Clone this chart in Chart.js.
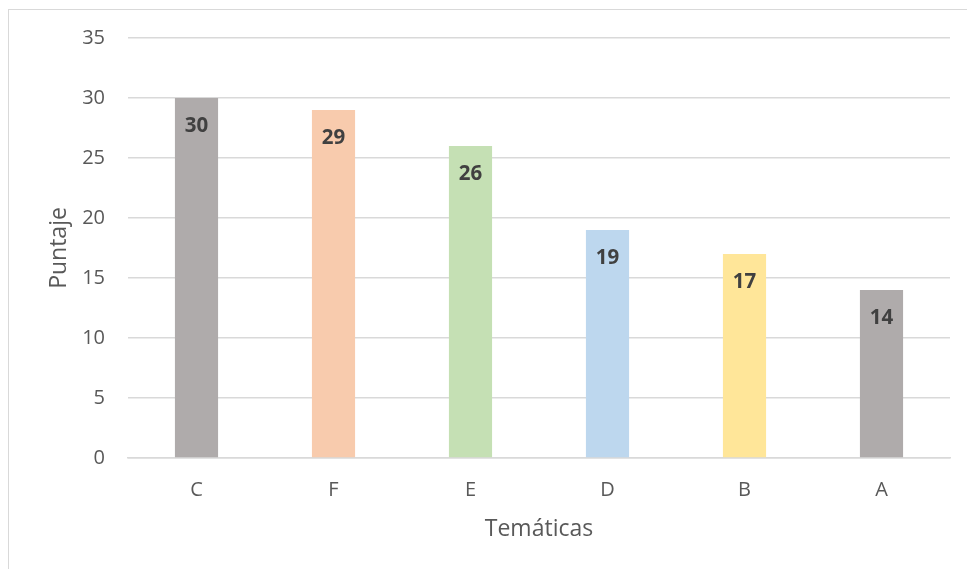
<!DOCTYPE html>
<html>
<head>
<meta charset="utf-8">
<script src="https://cdn.jsdelivr.net/npm/chart.js@4"></script>
<style>
  html, body { margin: 0; padding: 0; background: #fff; }
  #marco { position: absolute; left: 8px; top: 9px; width: 980px; height: 600px;
           border-left: 1px solid #d9d9d9; border-top: 1px solid #d9d9d9; }
  #wrap { position: absolute; left: 0; top: 0; width: 967px; height: 569px; }
</style>
</head>
<body>
<div id="marco"></div>
<div id="wrap"><canvas id="myChart" width="967" height="569"></canvas></div>
<script>
// Datos del gráfico
var tematicas = ['C', 'F', 'E', 'D', 'B', 'A'];
var puntajes = [30, 29, 26, 19, 17, 14];
var colores = ['#AFABAB', '#F8CBAD', '#C5E0B4', '#BDD7EE', '#FFE699', '#AFABAB'];
var ticksY = [0, 5, 10, 15, 20, 25, 30, 35];

var fuente = "'Open Sans', 'Noto Sans', sans-serif";

// Etiquetas de valor dentro de cada barra
var etiquetas = {
  id: 'etiquetas',
  afterDatasetsDraw: function(chart) {
    var ctx = chart.ctx;
    var meta = chart.getDatasetMeta(0);
    ctx.save();
    ctx.font = 'bold 20.5px ' + fuente;
    ctx.fillStyle = '#404040';
    ctx.textAlign = 'center';
    ctx.textBaseline = 'middle';
    meta.data.forEach(function(bar, i) {
      ctx.fillText(puntajes[i], bar.x, bar.y + 28);
    });
    ctx.restore();
  }
};

var ctx = document.getElementById('myChart').getContext('2d');
var chart = new Chart(ctx, {
  type: 'bar',
  data: {
    labels: tematicas,
    datasets: [{
      data: puntajes,
      backgroundColor: colores,
      categoryPercentage: 1,
      barPercentage: 0.315
    }]
  },
  options: {
    responsive: false,
    animation: false,
    layout: { padding: { left: 0, top: 38, right: 17, bottom: 0 } },
    plugins: { legend: { display: false }, tooltip: { enabled: false } },
    scales: {
      x: {
        grid: { display: false, drawTicks: false },
        border: { color: '#d9d9d9', width: 1.5 },
        ticks: { color: '#595959', padding: 20, font: { family: fuente, size: 20 } },
        title: { display: true, text: 'Temáticas', color: '#595959',
                 font: { family: fuente, size: 23 }, padding: { top: 0, bottom: 26 } },
        afterFit: function(scale) { scale.height = 111; }
      },
      y: {
        min: 0,
        max: 35,
        afterBuildTicks: function(scale) {
          scale.ticks = ticksY.map(function(v) { return { value: v }; });
        },
        grid: { color: '#d9d9d9', lineWidth: 1.5, drawTicks: false },
        border: { display: false },
        ticks: { color: '#595959', padding: 23, font: { family: fuente, size: 20 } },
        title: { display: true, text: 'Puntaje', color: '#595959',
                 font: { family: fuente, size: 23 }, padding: { top: 46, bottom: 0 } },
        afterFit: function(scale) { scale.width = 128; }
      }
    }
  },
  plugins: [etiquetas]
});
</script>
</body>
</html>
